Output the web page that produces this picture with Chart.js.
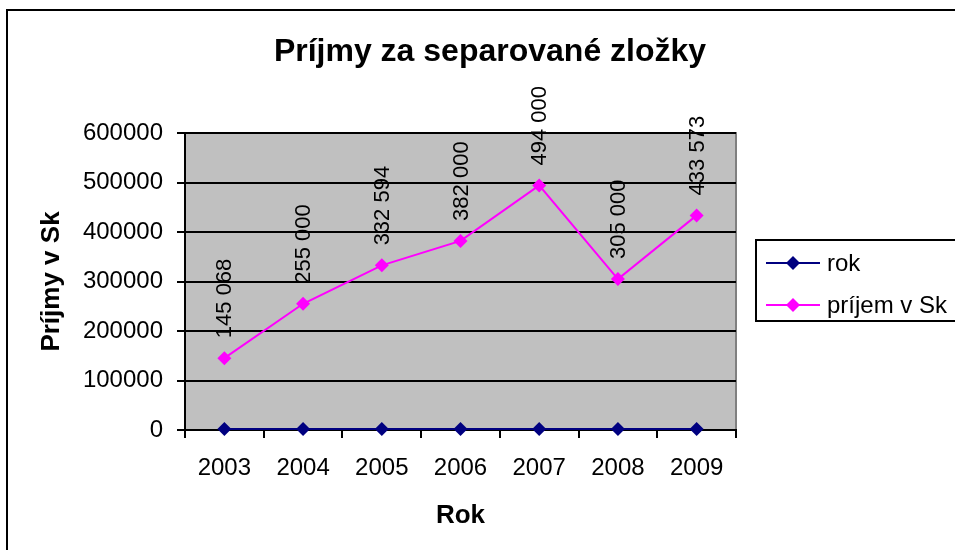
<!DOCTYPE html>
<html>
<head>
<meta charset="utf-8">
<script src="https://cdn.jsdelivr.net/npm/chart.js@4/dist/chart.umd.min.js"></script>
<style>
  html, body { margin: 0; padding: 0; background: #fff; }
  #wrap { width: 955px; height: 550px; }
</style>
</head>
<body>
<div id="wrap"><canvas id="chart-income"></canvas></div>
<script>
const years = ['2003', '2004', '2005', '2006', '2007', '2008', '2009'];
const rokValues = [2003, 2004, 2005, 2006, 2007, 2008, 2009];
const incomeValues = [145068, 255000, 332594, 382000, 494000, 305000, 433573];
const yTicks = [0, 100000, 200000, 300000, 400000, 500000, 600000];

const FONT = "'Liberation Sans', Arial, sans-serif";

// space as thousands separator, e.g. 332 594
function fmt(v) {
    return String(v).replace(/\B(?=(\d{3})+(?!\d))/g, ' ');
}

// frame, grey plot area, title and boxed legend (Excel look)
const excelLook = {
    id: 'excelLook',
    beforeDraw(chart) {
        const { ctx, chartArea: a } = chart;
        ctx.save();
        ctx.fillStyle = '#fff';
        ctx.fillRect(0, 0, chart.width, chart.height);
        ctx.fillStyle = '#c0c0c0';
        ctx.fillRect(a.left, a.top, a.right - a.left, a.bottom - a.top);
        ctx.strokeStyle = '#808080';
        ctx.lineWidth = 2;
        ctx.beginPath();
        ctx.moveTo(a.left, a.top);
        ctx.lineTo(a.right, a.top);
        ctx.lineTo(a.right, a.bottom);
        ctx.stroke();
        // outer chart border
        ctx.strokeStyle = '#000';
        ctx.strokeRect(7, 10, 1000, 600);
        // title
        ctx.fillStyle = '#000';
        ctx.font = 'bold 32px ' + FONT;
        ctx.textAlign = 'center';
        ctx.textBaseline = 'middle';
        ctx.fillText('Príjmy za separované zložky', 490, 52);
        ctx.restore();
    },
    afterDraw(chart) {
        const { ctx } = chart;
        ctx.save();
        ctx.strokeStyle = '#000';
        ctx.lineWidth = 2;
        ctx.fillStyle = '#fff';
        ctx.fillRect(756, 240, 300, 81);
        ctx.strokeRect(756, 240, 300, 81);
        ctx.font = '24px ' + FONT;
        ctx.textBaseline = 'middle';
        ctx.textAlign = 'left';
        chart.data.datasets.forEach((ds, i) => {
            const y = 263 + i * 42;
            ctx.strokeStyle = ds.borderColor;
            ctx.lineWidth = 2;
            ctx.beginPath();
            ctx.moveTo(766, y);
            ctx.lineTo(820, y);
            ctx.stroke();
            ctx.fillStyle = ds.pointBackgroundColor;
            ctx.beginPath();
            ctx.moveTo(793, y - 7);
            ctx.lineTo(800, y);
            ctx.lineTo(793, y + 7);
            ctx.lineTo(786, y);
            ctx.closePath();
            ctx.fill();
            ctx.fillStyle = '#000';
            ctx.fillText(ds.label, 827, y + 1);
        });
        ctx.restore();
    }
};

// rotated value labels above the income points
const valueLabels = {
    id: 'valueLabels',
    afterDatasetsDraw(chart) {
        const { ctx } = chart;
        const meta = chart.getDatasetMeta(1);
        ctx.save();
        ctx.fillStyle = '#000';
        ctx.font = '22px ' + FONT;
        ctx.textAlign = 'left';
        ctx.textBaseline = 'middle';
        meta.data.forEach((pt, i) => {
            ctx.save();
            ctx.translate(pt.x, pt.y - 20);
            ctx.rotate(-Math.PI / 2);
            ctx.fillText(fmt(chart.data.datasets[1].data[i]), 0, 1);
            ctx.restore();
        });
        ctx.restore();
    }
};

new Chart(document.getElementById('chart-income'), {
    type: 'line',
    data: {
        labels: years,
        datasets: [{
            label: 'rok',
            data: rokValues,
            borderColor: '#000080',
            backgroundColor: '#000080',
            pointBackgroundColor: '#000080',
            pointBorderColor: '#000080',
            borderWidth: 2,
            pointStyle: 'rectRot',
            pointRadius: 7,
            pointBorderWidth: 0,
            tension: 0,
            clip: false
        }, {
            label: 'príjem v Sk',
            data: incomeValues,
            borderColor: '#ff00ff',
            backgroundColor: '#ff00ff',
            pointBackgroundColor: '#ff00ff',
            pointBorderColor: '#ff00ff',
            borderWidth: 2,
            pointStyle: 'rectRot',
            pointRadius: 7,
            pointBorderWidth: 0,
            tension: 0,
            clip: false
        }]
    },
    options: {
        responsive: true,
        maintainAspectRatio: false,
        animation: false,
        layout: { padding: { top: 133, right: 219, left: 0, bottom: 0 } },
        plugins: {
            legend: { display: false },
            title: { display: false },
            tooltip: { enabled: false }
        },
        scales: {
            x: {
                offset: true,
                afterFit(scale) { scale.height = 120; },
                grid: {
                    offset: true,
                    drawOnChartArea: false,
                    drawTicks: true,
                    tickLength: 8,
                    color: '#000',
                    lineWidth: 2
                },
                border: { color: '#000', width: 2 },
                ticks: {
                    color: '#000',
                    padding: 16,
                    maxRotation: 0,
                    font: { family: FONT, size: 24 }
                },
                title: {
                    display: true,
                    text: 'Rok',
                    color: '#000',
                    font: { family: FONT, size: 26, weight: 'bold' },
                    padding: { top: 0, bottom: 19 }
                }
            },
            y: {
                min: 0,
                max: 600000,
                afterFit(scale) { scale.width = 185; },
                afterBuildTicks(scale) { scale.ticks = yTicks.map(v => ({ value: v })); },
                grid: {
                    color: '#000',
                    lineWidth: 2,
                    drawTicks: true,
                    tickLength: 8
                },
                border: { color: '#000', width: 2 },
                ticks: {
                    color: '#000',
                    padding: 14,
                    font: { family: FONT, size: 24 },
                    callback: v => String(v)
                },
                title: {
                    display: true,
                    text: 'Príjmy v Sk',
                    color: '#000',
                    font: { family: FONT, size: 26, weight: 'bold' },
                    padding: { top: 36, bottom: 0 }
                }
            }
        }
    },
    plugins: [excelLook, valueLabels]
});
</script>
</body>
</html>
